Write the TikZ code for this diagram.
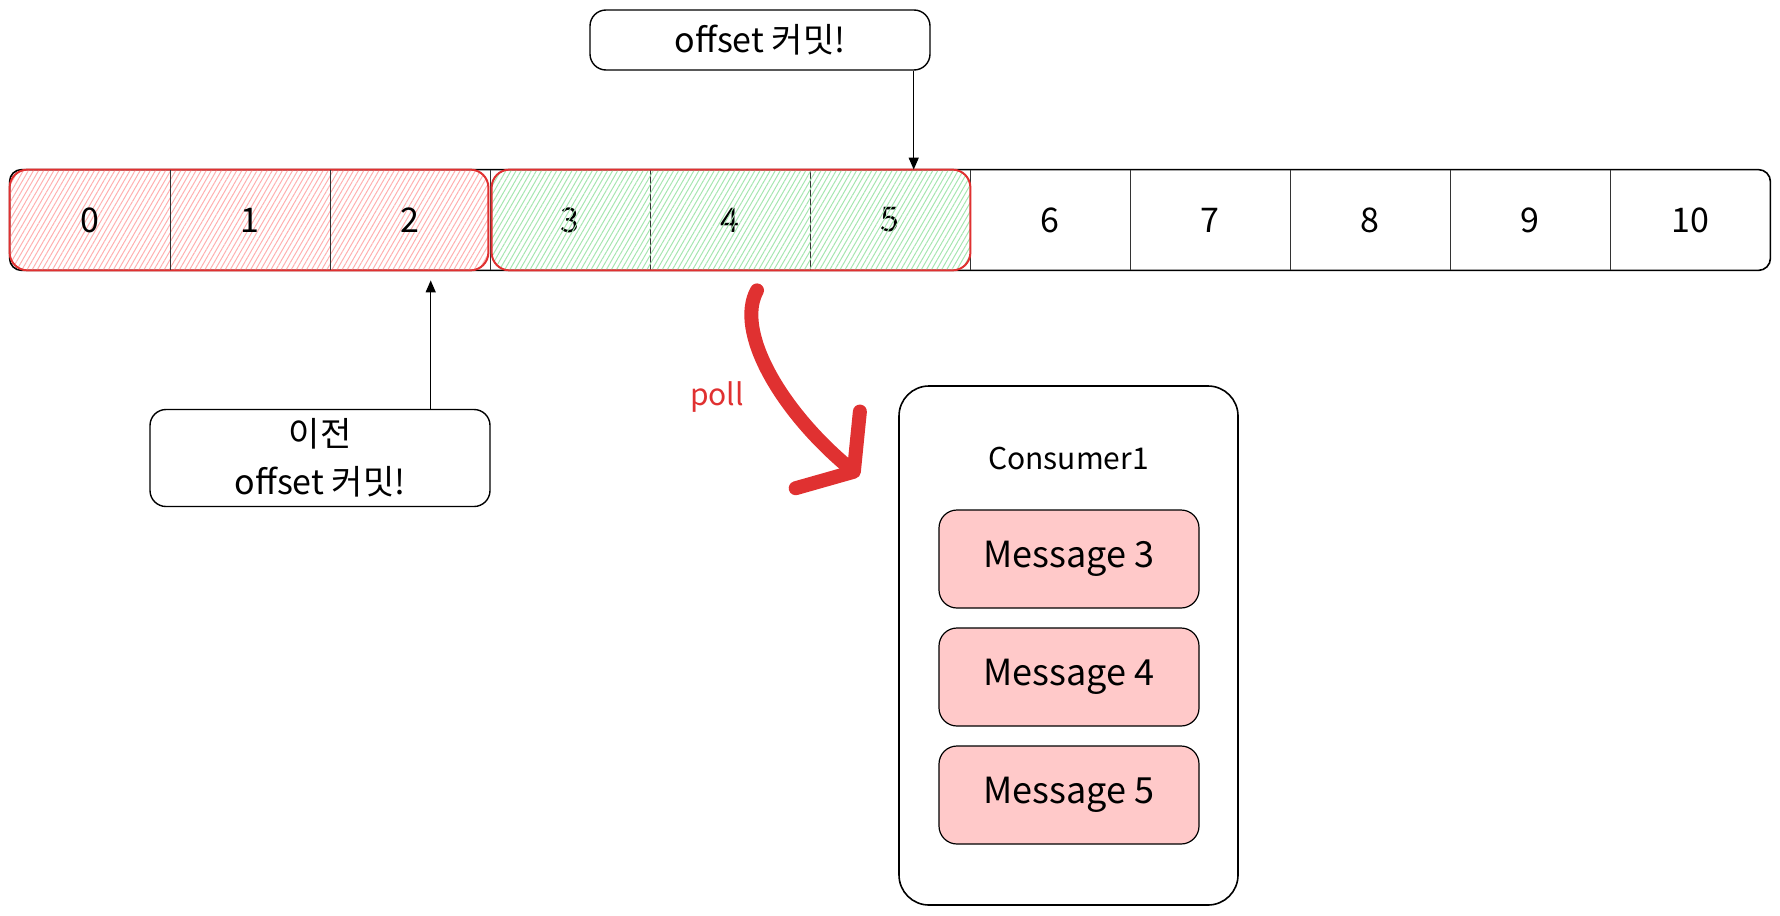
\documentclass[tikz,border=0pt]{standalone}
\usepackage{fontspec}
\setmainfont{Noto Sans CJK KR}
\usetikzlibrary{positioning,arrows.meta,patterns.meta,backgrounds}
\definecolor{strokered}{HTML}{E03131}
\definecolor{hatchred}{HTML}{FFB0B0}
\definecolor{hatchgreen}{HTML}{A6E6B0}
\definecolor{msgpink}{HTML}{FFC9C9}
\tikzstyle{cell} = [rectangle, minimum width=80pt, minimum height=50pt, inner sep=0pt, font=\fontsize{17pt}{20pt}\selectfont]
\tikzstyle{bar} = [draw=black, line width=0.8pt, rounded corners=6pt]
\tikzstyle{divider} = [draw=black!80, line width=0.5pt]
\tikzstyle{oldbox} = [draw=strokered, line width=1pt, rounded corners=9pt, pattern={Lines[angle=60,distance=2.2pt,line width=0.5pt]}, pattern color=hatchred]
\tikzstyle{newbox} = [draw=strokered, line width=1pt, rounded corners=9pt, pattern={Lines[angle=60,distance=2.2pt,line width=0.5pt]}, pattern color=hatchgreen]
\tikzstyle{callout} = [rectangle, rounded corners=8pt, draw=black, line width=0.7pt, minimum width=170pt, minimum height=30pt, text centered, font=\fontsize{17pt}{24pt}\selectfont]
\tikzstyle{arrow} = [line width=0.7pt, -{Triangle[length=6pt,width=5pt]}]
\tikzstyle{consumerbox} = [rectangle, rounded corners=15pt, draw=black, line width=0.8pt, minimum width=169.5pt, minimum height=259.5pt]
\tikzstyle{message} = [rectangle, rounded corners=9pt, draw=black, line width=0.6pt, fill=msgpink, minimum width=130pt, minimum height=49pt, font=\fontsize{18pt}{21pt}\selectfont]
\tikzstyle{pollarrow} = [draw=strokered, line width=7pt, line cap=round, -{Straight Barb[length=17pt,width=50pt,round]}]

\begin{document}
\begin{tikzpicture}[x=0.5pt, y=-0.5pt, node distance=80pt]
\useasboundingbox (0,0) rectangle (1780,915);

% partition cells
\node (c0) [cell] at (90,220) {0};
\node (c1) [cell, right of=c0] {1};
\node (c2) [cell, right of=c1] {2};
\node (c3) [cell, right of=c2] {3};
\node (c4) [cell, right of=c3] {4};
\node (c5) [cell, right of=c4] {5};
\node (c6) [cell, right of=c5] {6};
\node (c7) [cell, right of=c6] {7};
\node (c8) [cell, right of=c7] {8};
\node (c9) [cell, right of=c8] {9};
\node (c10) [cell, right of=c9] {10};

\begin{scope}[on background layer]
\draw [bar] (c0.north west) rectangle (c10.south east);
\draw [oldbox] (c0.north west) rectangle ([xshift=-1pt]c2.south east);
\draw [divider] (c0.north east) -- (c0.south east) (c1.north east) -- (c1.south east)
  (c2.north east) -- (c2.south east) (c3.north east) -- (c3.south east)
  (c4.north east) -- (c4.south east) (c5.north east) -- (c5.south east)
  (c6.north east) -- (c6.south east) (c7.north east) -- (c7.south east)
  (c8.north east) -- (c8.south east) (c9.north east) -- (c9.south east);
\end{scope}

% polled range, drawn over its digits
\draw [newbox] ([xshift=1pt]c3.north west) rectangle (c5.south east);

\node (topcommit) [callout] at (760,40) {offset 커밋!};
\node (prevcommit) [callout, align=center, minimum height=48.5pt] at (320,458) {이전\\offset 커밋!};

\draw [arrow] ([xshift=-8.5pt]topcommit.south east) -- ([xshift=-8.5pt]topcommit.south east |- c5.north);
\draw [arrow, shorten >=5pt] ([xshift=-30pt]prevcommit.north east) -- ([xshift=-30pt]prevcommit.north east |- c2.south);

% consumer
\node (consumer) [consumerbox] at (1068.5,645.5) {};
\node (ctitle) at ([yshift=-36.5pt]consumer.north) [font=\fontsize{15pt}{18pt}\selectfont] {Consumer1};
\node (msg3) [message] at (1069,559) {Message 3};
\node (msg4) [message, below of=msg3, node distance=59pt] {Message 4};
\node (msg5) [message, below of=msg4, node distance=59pt] {Message 5};

\coordinate (pollstart) at ([xshift=13.5pt,yshift=-10pt]c4.south);
\coordinate (pollend) at ([xshift=-19.5pt,yshift=-45.5pt]consumer.north west);
\node (polllabel) [text=strokered, font=\fontsize{15pt}{18pt}\selectfont] at (717,397) {poll};

\draw [pollarrow] (pollstart) .. controls +(-22,40) and +(-80,-67) .. (pollend);

\end{tikzpicture}
\end{document}
